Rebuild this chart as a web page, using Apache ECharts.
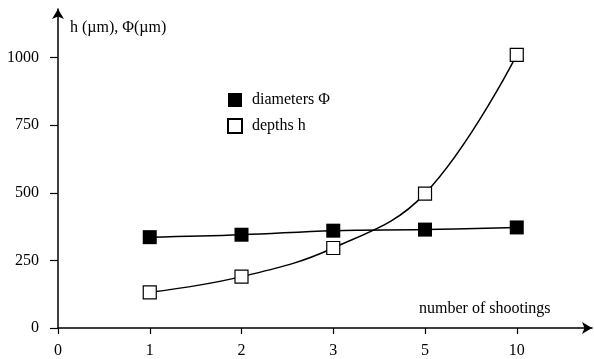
<!DOCTYPE html>
<html><head><meta charset="utf-8">
<script src="https://cdn.jsdelivr.net/npm/echarts@6/dist/echarts.min.js"></script>
<style>html,body{margin:0;padding:0;background:#fff}#c{width:594px;height:359px}</style>
</head><body><div id="c"></div>
<script>
const categories = ['0', '1', '2', '3', '5', '10'];
const shootingsIdx = [1, 2, 3, 4, 5];
const diameters = [336, 345, 360, 364, 372];
const depths = [132, 190, 296, 497, 1010];
const yTicks = [0, 250, 500, 750, 1000];

const FONT = 'Liberation Serif';
const chart = echarts.init(document.getElementById('c'));
chart.setOption({
  animation: false,
  backgroundColor: '#fff',
  grid: { left: 58, right: 2, top: 9, bottom: 31, containLabel: false },
  legend: {
    orient: 'vertical', left: 227, top: 92, itemGap: 10, padding: 0,
    itemWidth: 14, itemHeight: 14, icon: 'rect',
    textStyle: { fontFamily: FONT, fontSize: 16, color: '#000', padding: [0, 0, 0, 5] },
    data: ['diameters Φ', 'depths h']
  },
  xAxis: {
    type: 'value', min: 0, max: 5.82,
    axisLine: { lineStyle: { color: '#000', width: 1.5 }, symbol: ['none', 'arrow'], symbolSize: [9, 10] },
    axisTick: { show: true, length: 6, lineStyle: { color: '#000', width: 1.2 }, customValues: [0, 1, 2, 3, 4, 5] },
    axisLabel: {
      customValues: [0, 1, 2, 3, 4, 5], margin: 15,
      fontFamily: FONT, fontSize: 16, color: '#000',
      formatter: v => categories[Math.round(v)] ?? ''
    },
    splitLine: { show: false }
  },
  yAxis: {
    type: 'value', min: 0, max: 1180,
    axisLine: { show: true, lineStyle: { color: '#000', width: 1.5 }, symbol: ['none', 'arrow'], symbolSize: [9, 10] },
    axisTick: { show: true, length: 8, lineStyle: { color: '#000', width: 1.2 }, customValues: yTicks },
    axisLabel: { customValues: yTicks, margin: 19, fontFamily: FONT, fontSize: 16, color: '#000', formatter: v => String(v) },
    splitLine: { show: false }
  },
  graphic: [
    { type: 'text', left: 70, top: 20, style: { text: 'h (µm), Φ(µm)', font: '16px "Liberation Serif"', fill: '#000' } },
    { type: 'text', left: 419, top: 301, style: { text: 'number of shootings', font: '16px "Liberation Serif"', fill: '#000' } }
  ],
  series: [
    {
      name: 'diameters Φ', type: 'line', smooth: 0.4,
      data: shootingsIdx.map((x, i) => [x, diameters[i]]),
      symbol: 'rect', symbolSize: 14,
      itemStyle: { color: '#000', borderColor: '#000', borderWidth: 0 },
      lineStyle: { color: '#000', width: 1.5 }
    },
    {
      name: 'depths h', type: 'line', smooth: 0.4,
      data: shootingsIdx.map((x, i) => [x, depths[i]]),
      symbol: 'rect', symbolSize: 13,
      itemStyle: { color: '#fff', borderColor: '#000', borderWidth: 1.2 },
      lineStyle: { color: '#000', width: 1.5 }
    }
  ]
});
</script></body></html>
